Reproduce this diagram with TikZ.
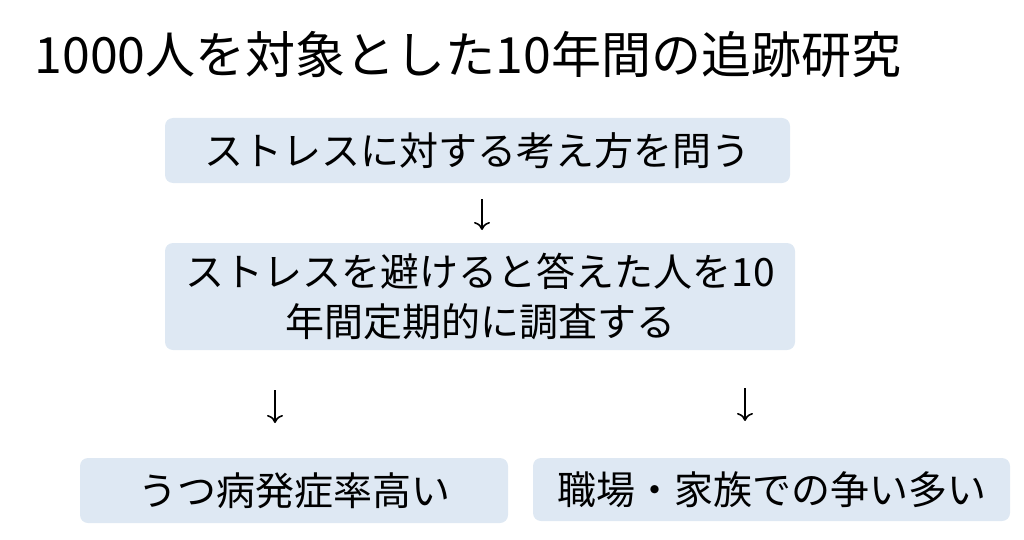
\documentclass[tikz,border=0pt]{standalone}
\usepackage{fontspec}
\setmainfont{Noto Sans CJK JP}
\usetikzlibrary{arrows.meta}
\definecolor{boxblue}{HTML}{DEE8F3}
\begin{document}
\begin{tikzpicture}[x=1pt,y=-1pt,
  box/.style={fill=boxblue,rounded corners=8pt,inner sep=0pt,font=\fontsize{39}{50}\selectfont,align=center},
  conn/.style={-{To[length=8pt,width=16pt]},line width=1.6pt}]
\useasboundingbox (0,0) rectangle (1024,540);
\node[anchor=west,font=\fontsize{50}{56}\selectfont] (title) at (31,55) {1000人を対象とした10年間の追跡研究};
\node[box,minimum width=625pt,minimum height=65pt] (b1) at (477.5,150.5) {ストレスに対する考え方を問う};
\node[box,minimum width=630pt,minimum height=107pt] (b2) at (480,296.5) {ストレスを避けると答えた人を10\\年間定期的に調査する};
\node[box,minimum width=428pt,minimum height=65pt] (b3) at (294,490.5) {うつ病発症率高い};
\node[box,minimum width=477pt,minimum height=63pt] (b4) at (771.5,489.5) {職場・家族での争い多い};
\coordinate (a1) at (482,199); \coordinate (a2) at (482,230);
\draw[conn] (a1) -- (a2);
\coordinate (c1) at (275,390); \coordinate (c2) at (275,423);
\draw[conn] (c1) -- (c2);
\coordinate (d1) at (745,388); \coordinate (d2) at (745,421);
\draw[conn] (d1) -- (d2);
\end{tikzpicture}
\end{document}
